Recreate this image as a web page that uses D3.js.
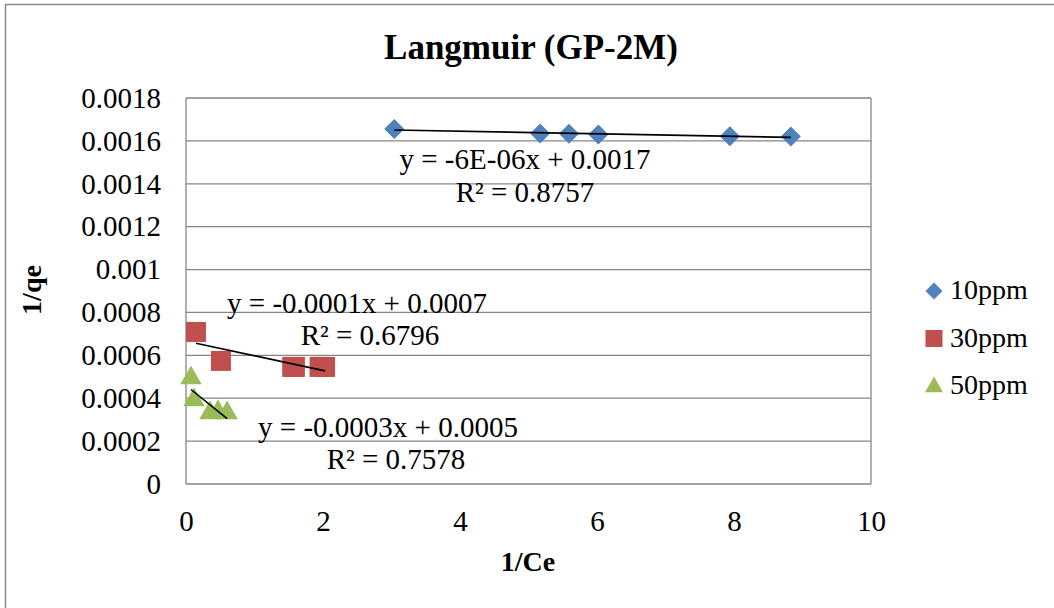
<!DOCTYPE html>
<html>
<head>
<meta charset="utf-8">
<script src="https://cdn.jsdelivr.net/npm/d3@7"></script>
<style>
  body { margin: 0; background: #fff; }
  text { font-family: "Liberation Serif", "Times New Roman", serif; fill: #000; }
</style>
</head>
<body>
<script>
// data
const series = ["10ppm", "30ppm", "50ppm"];
const x10 = [3.04, 5.17, 5.59, 6.02, 7.94, 8.83];
const y10 = [0.001656, 0.001635, 0.001633, 0.00163, 0.001622, 0.00162];
const x30 = [0.146, 0.51, 1.55, 1.59, 1.95, 2.03];
const y30 = [0.000709, 0.000574, 0.000546, 0.000546, 0.000546, 0.000546];
const x50 = [0.073, 0.117, 0.35, 0.467, 0.6];
const y50 = [0.000494, 0.000392, 0.000331, 0.000336, 0.000331];
const equations = ["y = -6E-06x + 0.0017", "y = -0.0001x + 0.0007", "y = -0.0003x + 0.0005"];
const rSquared = ["R² = 0.8757", "R² = 0.6796", "R² = 0.7578"];
const xTicks = [0, 2, 4, 6, 8, 10];
const yTicks = [0, 0.0002, 0.0004, 0.0006, 0.0008, 0.001, 0.0012, 0.0014, 0.0016, 0.0018];
const colors = ["#4F81BD", "#C0504D", "#9BBB59"];

const W = 1054, H = 608;
var margin = {top: 98, right: 183, bottom: 124, left: 186},
    width = W - margin.left - margin.right,
    height = H - margin.top - margin.bottom;

const root = d3.select("body").append("svg")
  .attr("width", W).attr("height", H);

// chart border (runs off the right and bottom)
root.append("rect")
  .attr("x", 5.5).attr("y", 4.5)
  .attr("width", W + 10).attr("height", H + 10)
  .attr("fill", "none").attr("stroke", "#8c8c8c").attr("stroke-width", 1.5);

var svg = root.append("g")
  .attr("transform", "translate(" + margin.left + "," + margin.top + ")");

var x = d3.scaleLinear().domain([0, 10]).range([0, width]);
var y = d3.scaleLinear().domain([0, 0.0018]).range([height, 0]);

// gridlines
svg.append("g").selectAll("line")
  .data(yTicks)
  .join("line")
  .attr("x1", 0).attr("x2", width)
  .attr("y1", d => y(d)).attr("y2", d => y(d))
  .attr("stroke", "#868686").attr("stroke-width", 1.3);

svg.append("line")
  .attr("x1", x(10)).attr("x2", x(10)).attr("y1", 0).attr("y2", height)
  .attr("stroke", "#868686").attr("stroke-width", 1.3);
svg.append("line")
  .attr("x1", 0).attr("x2", 0).attr("y1", 0).attr("y2", height)
  .attr("stroke", "#868686").attr("stroke-width", 1.3);

// axes (labels only)
const gx = svg.append("g")
  .attr("transform", "translate(0," + height + ")")
  .call(d3.axisBottom(x).tickValues(xTicks).tickSize(0).tickPadding(26).tickFormat(d3.format("d")));
const gy = svg.append("g")
  .call(d3.axisLeft(y).tickValues(yTicks).tickSize(0).tickPadding(25).tickFormat(d => d === 0 ? "0" : String(+d.toFixed(4))));
[gx, gy].forEach(g => {
  g.select(".domain").remove();
  g.selectAll("text").attr("font-size", 29).attr("font-family", "Liberation Serif").attr("fill", "#000");
});

// trendlines (least squares, as the spreadsheet does)
function fit(xs, ys) {
  const n = xs.length, mx = d3.mean(xs), my = d3.mean(ys);
  let sxy = 0, sxx = 0;
  for (let i = 0; i < n; i++) { sxy += (xs[i] - mx) * (ys[i] - my); sxx += (xs[i] - mx) ** 2; }
  const b = sxy / sxx;
  return {b: b, a: my - b * mx, x0: d3.min(xs), x1: d3.max(xs)};
}

const data = [[x10, y10], [x30, y30], [x50, y50]];

const symbols = [d3.symbolSquare, d3.symbolSquare, d3.symbolTriangle];
const symSize = [200, 400, 200];
const symRot = [" rotate(45)", "", ""];

data.forEach((d, i) => {
  svg.append("g").selectAll("path")
    .data(d[0].map((v, k) => [v, d[1][k]]))
    .join("path")
    .attr("d", d3.symbol(symbols[i], symSize[i]))
    .attr("transform", p => "translate(" + x(p[0]) + "," + y(p[1]) + ")" + symRot[i])
    .attr("fill", colors[i]);
});

data.forEach((d, i) => {
  const f = fit(d[0], d[1]);
  svg.append("line")
    .attr("x1", x(f.x0)).attr("y1", y(f.a + f.b * f.x0))
    .attr("x2", x(f.x1)).attr("y2", y(f.a + f.b * f.x1))
    .attr("stroke", "#000").attr("stroke-width", 1.6);
});

// trendline labels
const eqPos = [[525, 159, 525, 192], [357, 303, 370, 335], [388, 427, 396, 459]];
eqPos.forEach((p, i) => {
  root.append("text").attr("x", p[0]).attr("y", p[1] + 10)
    .attr("text-anchor", "middle").attr("font-size", 29).text(equations[i]);
  root.append("text").attr("x", p[2]).attr("y", p[3] + 10)
    .attr("text-anchor", "middle").attr("font-size", 29).text(rSquared[i]);
});

// title and axis titles
root.append("text").attr("x", 531).attr("y", 59)
  .attr("text-anchor", "middle").attr("font-size", 35).attr("font-weight", "bold")
  .text("Langmuir (GP-2M)");
root.append("text").attr("x", 528).attr("y", 571)
  .attr("text-anchor", "middle").attr("font-size", 28).attr("font-weight", "bold")
  .text("1/Ce");
root.append("text")
  .attr("transform", "translate(41,290) rotate(-90)")
  .attr("text-anchor", "middle").attr("font-size", 28).attr("font-weight", "bold")
  .text("1/qe");

// legend
const leg = root.append("g").attr("transform", "translate(934,291)");
series.forEach((s, i) => {
  const g = leg.append("g").attr("transform", "translate(0," + (i * 47.5) + ")");
  g.append("path")
    .attr("d", d3.symbol(symbols[i], [145, 290, 140][i]))
    .attr("transform", i === 0 ? "rotate(45)" : (i === 2 ? "translate(0,1)" : ""))
    .attr("fill", colors[i]);
  g.append("text").attr("x", 16).attr("y", 8).attr("font-size", 28).text(s);
});
</script>
</body>
</html>
